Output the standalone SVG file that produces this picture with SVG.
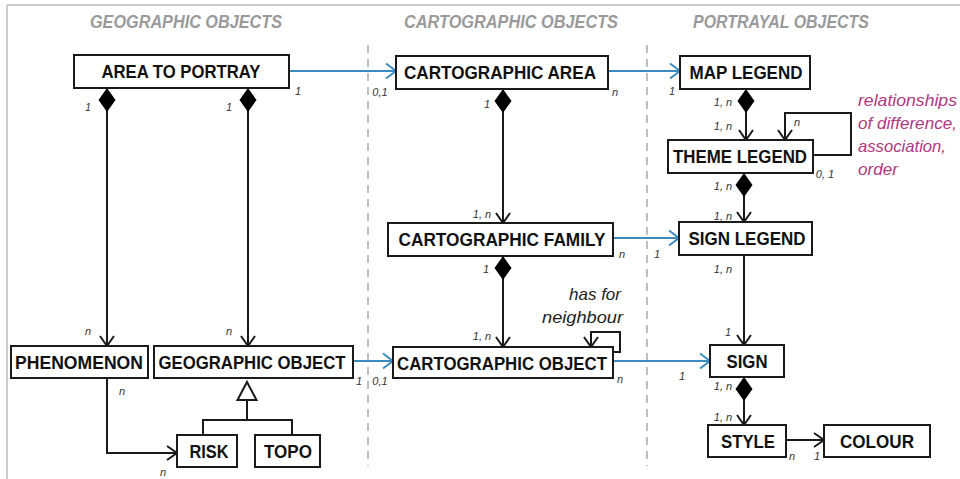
<svg xmlns="http://www.w3.org/2000/svg" width="960" height="479" viewBox="0 0 960 479">
<style>
.box{fill:#fff;stroke:#1a1a1a;stroke-width:2}
.lbl{font-family:"Liberation Sans",Arial,sans-serif;font-weight:bold;font-size:18px;fill:#111;text-anchor:middle}
.title{font-family:"Liberation Sans",Arial,sans-serif;font-weight:bold;font-style:italic;font-size:18px;fill:#9a9a9a;text-anchor:middle}
.m{font-family:"Liberation Sans",Arial,sans-serif;font-style:italic;font-size:11px;fill:#333;text-anchor:middle}
.note{font-family:"Liberation Sans",Arial,sans-serif;font-style:italic;font-size:17px;fill:#b0387f}
.nb{font-family:"Liberation Sans",Arial,sans-serif;font-style:italic;font-size:17px;fill:#222}
.k{fill:none;stroke:#1a1a1a;stroke-width:2}
.b{fill:none;stroke:#3a8cc0;stroke-width:2}
.dash{fill:none;stroke:#aaa;stroke-width:1.5;stroke-dasharray:8 6}
</style>
<defs>
<marker id="ak" markerUnits="userSpaceOnUse" markerWidth="14" markerHeight="16" refX="11" refY="7" orient="auto" overflow="visible">
<path d="M1,0 L11,7 L1,14" fill="none" stroke="#1a1a1a" stroke-width="2"/>
</marker>
<marker id="ab" markerUnits="userSpaceOnUse" markerWidth="14" markerHeight="16" refX="11" refY="7.5" orient="auto" overflow="visible">
<path d="M1,0 L11,7.5 L1,15" fill="none" stroke="#3a8cc0" stroke-width="2"/>
</marker>
<marker id="dm" markerUnits="userSpaceOnUse" markerWidth="26" markerHeight="20" refX="0" refY="0" orient="auto" overflow="visible">
<path d="M0,0 L12,-8.5 L24,0 L12,8.5 Z" fill="#000"/>
</marker>
</defs>
<rect width="960" height="479" fill="#fff"/>
<g id="frame">
<line x1="7" y1="5" x2="960" y2="5" stroke="#ccc" stroke-width="2"/>
<line x1="7" y1="5" x2="7" y2="479" stroke="#ccc" stroke-width="2"/>
<line class="dash" x1="368" y1="45" x2="368" y2="466"/>
<line class="dash" x1="647" y1="45" x2="647" y2="466"/>
</g>
<g id="titles">
<text class="title" x="186" y="28" textLength="192" lengthAdjust="spacingAndGlyphs">GEOGRAPHIC OBJECTS</text>
<text class="title" x="511" y="28" textLength="214" lengthAdjust="spacingAndGlyphs">CARTOGRAPHIC OBJECTS</text>
<text class="title" x="781" y="28" textLength="176" lengthAdjust="spacingAndGlyphs">PORTRAYAL OBJECTS</text>
</g>
<g id="connectors">
<line class="b" x1="289" y1="71" x2="396" y2="71" marker-end="url(#ab)"/>
<line class="b" x1="608" y1="71" x2="680" y2="71" marker-end="url(#ab)"/>
<line class="k" x1="107" y1="88" x2="107" y2="346" marker-start="url(#dm)" marker-end="url(#ak)"/>
<line class="k" x1="248" y1="88" x2="248" y2="346" marker-start="url(#dm)" marker-end="url(#ak)"/>
<line class="k" x1="503" y1="89" x2="503" y2="223" marker-start="url(#dm)" marker-end="url(#ak)"/>
<line class="k" x1="503" y1="256" x2="503" y2="347" marker-start="url(#dm)" marker-end="url(#ak)"/>
<line class="b" x1="613" y1="238" x2="679" y2="238" marker-end="url(#ab)"/>
<path class="k" d="M613,352 H620 V332 H591 V347" marker-end="url(#ak)"/>
<line class="b" x1="613" y1="361" x2="710" y2="361" marker-end="url(#ab)"/>
<line class="b" x1="353" y1="361" x2="393" y2="361" marker-end="url(#ab)"/>
<path d="M247,382 L256.5,400 L237.5,400 Z" fill="#fff" stroke="#1a1a1a" stroke-width="2"/>
<path class="k" d="M247,400 V420 M203,435 V420 H292 V435"/>
<path class="k" d="M107,378 V453 H177" marker-end="url(#ak)"/>
<line class="k" x1="746" y1="89" x2="746" y2="140" marker-start="url(#dm)" marker-end="url(#ak)"/>
<path class="k" d="M813,155 H851 V113 H785 V140" marker-end="url(#ak)"/>
<line class="k" x1="744" y1="173" x2="744" y2="222" marker-start="url(#dm)" marker-end="url(#ak)"/>
<line class="k" x1="744" y1="255" x2="744" y2="345" marker-end="url(#ak)"/>
<line class="k" x1="744" y1="377" x2="744" y2="425" marker-start="url(#dm)" marker-end="url(#ak)"/>
<line class="k" x1="786" y1="440" x2="824" y2="440" marker-end="url(#ak)"/>
</g>
<g id="multiplicities">
<text class="m" x="298" y="95">1</text>
<text class="m" x="380" y="96">0,1</text>
<text class="m" x="615" y="96">n</text>
<text class="m" x="672" y="95">1</text>
<text class="m" x="88" y="111">1</text>
<text class="m" x="229" y="111">1</text>
<text class="m" x="88" y="335">n</text>
<text class="m" x="229" y="335">n</text>
<text class="m" x="487" y="108">1</text>
<text class="m" x="482" y="218">1, n</text>
<text class="m" x="486" y="273">1</text>
<text class="m" x="482" y="340">1, n</text>
<text class="m" x="622" y="258">n</text>
<text class="m" x="657" y="258">1</text>
<text class="m" x="620" y="383">n</text>
<text class="m" x="682" y="380">1</text>
<text class="m" x="359" y="385">1</text>
<text class="m" x="380" y="385">0,1</text>
<text class="m" x="122" y="395">n</text>
<text class="m" x="163" y="476">n</text>
<text class="m" x="723" y="106">1, n</text>
<text class="m" x="723" y="130">1, n</text>
<text class="m" x="797" y="126">n</text>
<text class="m" x="825" y="178">0, 1</text>
<text class="m" x="723" y="190">1, n</text>
<text class="m" x="723" y="220">1, n</text>
<text class="m" x="723" y="273">1, n</text>
<text class="m" x="728" y="336">1</text>
<text class="m" x="723" y="390">1, n</text>
<text class="m" x="723" y="421">1, n</text>
<text class="m" x="792" y="460">n</text>
<text class="m" x="817" y="460">1</text>
</g>
<g id="notes">
<text class="nb" x="621" y="300" text-anchor="end">has for</text>
<text class="nb" x="542" y="323" textLength="81" lengthAdjust="spacingAndGlyphs">neighbour</text>
<text class="note" x="858" y="106" textLength="99" lengthAdjust="spacingAndGlyphs">relationships</text>
<text class="note" x="858" y="129" textLength="99" lengthAdjust="spacingAndGlyphs">of difference,</text>
<text class="note" x="858" y="152" textLength="88" lengthAdjust="spacingAndGlyphs">association,</text>
<text class="note" x="858" y="175" textLength="40" lengthAdjust="spacingAndGlyphs">order</text>
</g>
<g id="area-to-portray"><rect class="box" x="74" y="55" width="215" height="33"/><text class="lbl" x="181" y="78" textLength="159" lengthAdjust="spacingAndGlyphs">AREA TO PORTRAY</text></g>
<g id="cartographic-area"><rect class="box" x="396" y="56" width="212" height="33"/><text class="lbl" x="500" y="79" textLength="192" lengthAdjust="spacingAndGlyphs">CARTOGRAPHIC AREA</text></g>
<g id="map-legend"><rect class="box" x="680" y="56" width="130" height="33"/><text class="lbl" x="746" y="79" textLength="113" lengthAdjust="spacingAndGlyphs">MAP LEGEND</text></g>
<g id="theme-legend"><rect class="box" x="668" y="140" width="145" height="33"/><text class="lbl" x="740" y="163" textLength="134" lengthAdjust="spacingAndGlyphs">THEME LEGEND</text></g>
<g id="cartographic-family"><rect class="box" x="388" y="223" width="225" height="33"/><text class="lbl" x="502" y="246" textLength="207" lengthAdjust="spacingAndGlyphs">CARTOGRAPHIC FAMILY</text></g>
<g id="sign-legend"><rect class="box" x="679" y="222" width="133" height="33"/><text class="lbl" x="747" y="245" textLength="117" lengthAdjust="spacingAndGlyphs">SIGN LEGEND</text></g>
<g id="phenomenon"><rect class="box" x="11" y="346" width="137" height="32"/><text class="lbl" x="79" y="369" textLength="128" lengthAdjust="spacingAndGlyphs">PHENOMENON</text></g>
<g id="geographic-object"><rect class="box" x="154" y="346" width="199" height="32"/><text class="lbl" x="252" y="369" textLength="187" lengthAdjust="spacingAndGlyphs">GEOGRAPHIC OBJECT</text></g>
<g id="cartographic-object"><rect class="box" x="393" y="347" width="220" height="31"/><text class="lbl" x="502" y="370" textLength="210" lengthAdjust="spacingAndGlyphs">CARTOGRAPHIC OBJECT</text></g>
<g id="sign"><rect class="box" x="710" y="345" width="74" height="32"/><text class="lbl" x="747" y="368" textLength="41" lengthAdjust="spacingAndGlyphs">SIGN</text></g>
<g id="risk"><rect class="box" x="177" y="435" width="60" height="32"/><text class="lbl" x="209" y="458" textLength="39" lengthAdjust="spacingAndGlyphs">RISK</text></g>
<g id="topo"><rect class="box" x="255" y="435" width="65" height="32"/><text class="lbl" x="288" y="458" textLength="48" lengthAdjust="spacingAndGlyphs">TOPO</text></g>
<g id="style"><rect class="box" x="708" y="425" width="78" height="32"/><text class="lbl" x="748" y="448" textLength="54" lengthAdjust="spacingAndGlyphs">STYLE</text></g>
<g id="colour"><rect class="box" x="824" y="425" width="106" height="32"/><text class="lbl" x="877" y="448" textLength="74" lengthAdjust="spacingAndGlyphs">COLOUR</text></g>
</svg>
